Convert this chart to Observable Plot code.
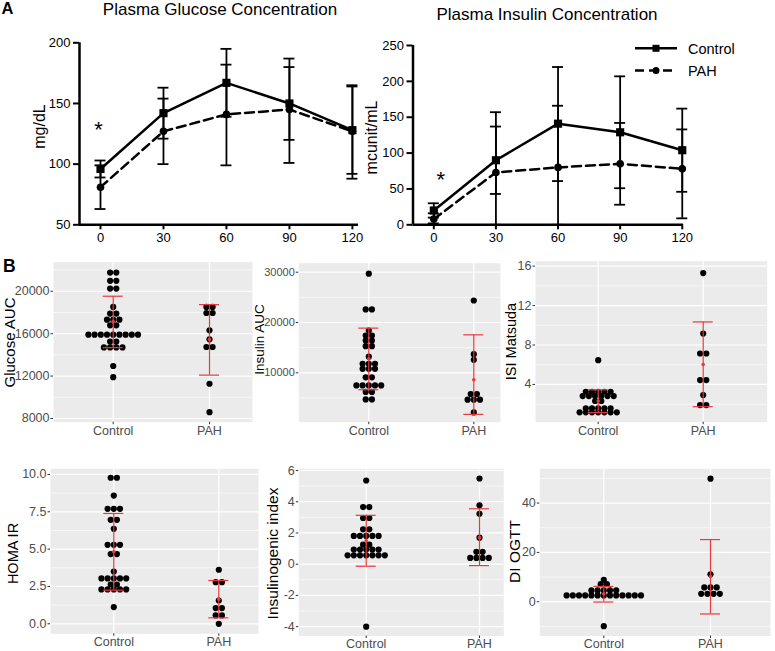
<!DOCTYPE html>
<html><head><meta charset="utf-8">
<script src="https://cdn.jsdelivr.net/npm/d3@7"></script>
<script src="https://cdn.jsdelivr.net/npm/@observablehq/plot@0.6"></script>
<style>
body{margin:0;background:#fff;}
#wrap{position:relative;width:775px;height:651px;overflow:hidden;background:#fff;}
#wrap svg{position:absolute;}
</style></head><body><div id="wrap"></div>
<script>
// ---------- Panel A data ----------
const times = [0, 30, 60, 90, 120];
const glucoseControl   = [96, 142, 167, 150, 128];
const glucoseControlLo = [89, 121, 139, 120, 92];
const glucoseControlHi = [103, 163, 195, 180, 164];
const glucosePAH       = [81, 127, 141, 145, 127];
const glucosePAHLo     = [63, 100, 99, 101, 88];
const glucosePAHHi     = [99, 154, 182, 187, 165];

const insulinControl   = [20, 90, 141, 129, 104];
const insulinControlLo = [10, 43, 61, 51, 46];
const insulinControlHi = [30, 137, 220, 207, 162];
const insulinPAH       = [8, 73, 80, 85, 78];
const insulinPAHLo     = [2, 0, 0, 28, 9];
const insulinPAHHi     = [16, 157, 166, 142, 133];

const glucoseTicks = [50, 100, 150, 200];
const insulinTicks = [0, 50, 100, 150, 200, 250];
const glucoseStar = [{t: 0, y: 128}];
const insulinStar = [{t: 0, y: 63}];

// ---------- Panel B data: [value, count] ----------
const groups = ["Control", "PAH"];
const glucoseAUCControl = [[21760,2],[20980,2],[20250,2],[18520,1],[17890,2],[17320,3],[16790,2],[15900,9],[15250,2],[14700,4],[12950,1],[11900,1]];
const glucoseAUCPAH     = [[18520,2],[17950,2],[16315,1],[15470,1],[14740,2],[11275,1],[8600,1]];
const glucoseAUCMean = [17150, 15450], glucoseAUCLo = [14680, 12090], glucoseAUCHi = [19530, 18740];

const insulinAUCControl = [[29700,1],[22600,2],[18400,1],[17400,2],[16400,2],[15300,2],[13200,1],[11800,3],[10800,3],[9100,2],[7500,5],[6200,2],[4700,2]];
const insulinAUCPAH     = [[24370,1],[13710,1],[12590,1],[5770,2],[4650,3],[2130,1]];
const insulinAUCMean = [12790, 8620], insulinAUCLo = [6630, 1740], insulinAUCHi = [18880, 17550];

const isiControl = [[6.46,1],[3.26,5],[2.82,6],[2.32,2],[1.58,5],[1.17,7]];
const isiPAH     = [[15.3,1],[9.16,1],[7.14,2],[4.44,2],[2.92,1],[1.91,2]];
const isiMean = [2.32, 6.02], isiLo = [1.14, 1.74], isiHi = [3.46, 10.34];

const homaControl = [[9.78,2],[8.59,1],[7.70,3],[6.96,2],[6.36,1],[5.29,3],[4.67,2],[3.50,1],[3.04,5],[2.63,2],[2.30,5],[1.12,1]];
const homaPAH     = [[3.62,1],[2.79,2],[1.56,1],[1.05,2],[0.56,2],[0.0,1]];
const homaMean = [4.82, 1.65], homaLo = [2.25, 0.40], homaHi = [7.39, 2.90];

const insgenControl = [[5.36,1],[3.66,2],[2.96,2],[2.23,2],[1.81,5],[1.25,2],[0.94,5],[0.57,7],[-4.0,1]];
const insgenPAH     = [[5.49,1],[3.77,1],[3.23,1],[1.70,1],[0.79,2],[0.40,4]];
const insgenMean = [1.50, 1.70], insgenLo = [-0.13, -0.09], insgenHi = [3.13, 3.55];

const diControl = [[8.86,1],[7.1,2],[4.57,5],[2.56,13],[-9.9,1]];
const diPAH     = [[49.9,1],[11.1,1],[5.8,3],[3.2,4]];
const diMean = [3.2, 10.2], diLo = [-0.13, -4.96], diHi = [6.2, 25.2];

// ---------- rendering ----------
const FONT = '"Liberation Sans", Arial, Helvetica, sans-serif';
const wrap = document.getElementById("wrap");
const RED = "#e8393f";

function place(svg, left, top) {
  svg.style.left = left + "px";
  svg.style.top = top + "px";
  wrap.appendChild(svg);
}

function linePanel(c) {
  const {box, fr, xDomain, yDomain} = c;
  const ppu = (fr.R - fr.L) / (xDomain[1] - xDomain[0]);
  const cap = 5.5 / ppu;
  const mk = (m, lo, hi) => times.map((t, i) => ({t, v: m[i], lo: lo[i], hi: hi[i]}));
  const ctrl = mk(...c.ctrl), pah = mk(...c.pah);
  const all = ctrl.concat(pah);
  const svg = Plot.plot({
    width: box.w, height: box.h,
    marginLeft: fr.L - box.x, marginRight: box.x + box.w - fr.R,
    marginTop: fr.T - box.y, marginBottom: box.y + box.h - fr.B,
    x: {domain: xDomain}, y: {domain: yDomain},
    style: {background: "transparent", overflow: "visible", fontFamily: FONT, color: "black"},
    marks: [
      Plot.ruleX([xDomain[0]], {strokeWidth: 2.5}),
      Plot.ruleY([yDomain[0]], {strokeWidth: 2.5}),
      Plot.axisY(c.yTicks, {tickSize: 6, strokeWidth: 2, tickPadding: 3, fontSize: 13, label: null, tickFormat: d => String(d)}),
      Plot.axisX(times, {tickSize: 5, strokeWidth: 2, tickPadding: 3, fontSize: 13, label: null, tickFormat: d => String(d)}),
      Plot.ruleX(all, {x: "t", y1: "lo", y2: "hi", strokeWidth: 1.8}),
      Plot.ruleY(all, {y: "lo", x1: d => d.t - cap, x2: d => d.t + cap, strokeWidth: 1.8}),
      Plot.ruleY(all, {y: "hi", x1: d => d.t - cap, x2: d => d.t + cap, strokeWidth: 1.8}),
      Plot.line(ctrl, {x: "t", y: "v", strokeWidth: 2.5}),
      Plot.line(pah, {x: "t", y: "v", strokeWidth: 2.5, strokeDasharray: "9,5"}),
      Plot.dot(ctrl, {x: "t", y: "v", symbol: "square", r: 4.6, fill: "black", stroke: null}),
      Plot.dot(pah, {x: "t", y: "v", r: 3.8, fill: "black", stroke: null}),
      Plot.text(c.star, {x: "t", y: "y", text: () => "*", fontSize: 22, dx: c.starDx}),
      Plot.text([c.yLabel], {frameAnchor: "left", textAnchor: "middle", rotate: -90, dx: c.labelCx - fr.L, dy: c.labelCy - (fr.T + fr.B) / 2, fontSize: 16})
    ]
  });
  place(svg, box.x, box.y);
}

linePanel({
  box: {x: 0, y: 25, w: 390, h: 225},
  fr: {L: 79, T: 42.3, R: 358, B: 224.3},
  xDomain: [-10, 122.9], yDomain: [50, 200], yTicks: glucoseTicks,
  ctrl: [glucoseControl, glucoseControlLo, glucoseControlHi],
  pah: [glucosePAH, glucosePAHLo, glucosePAHHi],
  star: glucoseStar, starDx: -2,
  yLabel: "mg/dL", labelCx: 39, labelCy: 126
});
linePanel({
  box: {x: 380, y: 25, w: 395, h: 225},
  fr: {L: 412.5, T: 45, R: 683, B: 224.3},
  xDomain: [-10.05, 120.6], yDomain: [0, 250], yTicks: insulinTicks,
  ctrl: [insulinControl, insulinControlLo, insulinControlHi],
  pah: [insulinPAH, insulinPAHLo, insulinPAHHi],
  star: insulinStar, starDx: 7,
  yLabel: "mcunit/mL", labelCx: 371, labelCy: 137
});

function dotPanel(c) {
  const {box, fr} = c;
  const unit = fr.c2 - fr.c1;
  const xDomain = [1 - (fr.c1 - fr.L) / unit, 2 + (fr.R - fr.c2) / unit];
  const spacing = 6.2 / unit;
  const capHalf = 10 / unit;
  const dots = [];
  [c.control, c.pah].forEach((rows, gi) => rows.forEach(([v, n]) => {
    for (let i = 0; i < n; i++) dots.push({x: gi + 1 + (i - (n - 1) / 2) * spacing, y: v});
  }));
  const stats = [0, 1].map(i => ({x: i + 1, mean: c.mean[i], lo: c.lo[i], hi: c.hi[i]}));
  const svg = Plot.plot({
    width: box.w, height: box.h,
    marginLeft: fr.L - box.x, marginRight: box.x + box.w - fr.R,
    marginTop: fr.T - box.y, marginBottom: box.y + box.h - fr.B,
    x: {domain: xDomain}, y: {domain: c.yDomain},
    style: {background: "transparent", overflow: "visible", fontFamily: FONT, color: "black"},
    marks: [
      Plot.frame({fill: "#ebebeb", stroke: "none"}),
      Plot.gridY(c.minor, {stroke: "white", strokeOpacity: 1, strokeWidth: 0.6}),
      Plot.gridY(c.ticks, {stroke: "white", strokeOpacity: 1, strokeWidth: 1.2}),
      Plot.gridX([1, 2], {stroke: "white", strokeOpacity: 1, strokeWidth: 1.2}),
      Plot.axisY(c.ticks, {tickSize: 2.5, tickPadding: 1.5, fontSize: c.tfs || 12.5, fill: "#4d4d4d", stroke: "#333333", label: null, tickFormat: c.fmt}),
      Plot.axisX([1, 2], {tickSize: 2.5, tickPadding: c.xpad, fontSize: 12.5, fill: "#4d4d4d", stroke: "#333333", label: null, tickFormat: d => groups[d - 1]}),
      Plot.dot(dots, {x: "x", y: "y", r: 3.1, fill: "black", stroke: null}),
      Plot.ruleX(stats, {x: "x", y1: "lo", y2: "hi", stroke: RED, strokeWidth: 1.2}),
      Plot.ruleY(stats, {y: "lo", x1: d => d.x - capHalf, x2: d => d.x + capHalf, stroke: RED, strokeWidth: 1.2}),
      Plot.ruleY(stats, {y: "hi", x1: d => d.x - capHalf, x2: d => d.x + capHalf, stroke: RED, strokeWidth: 1.2}),
      Plot.dot(stats, {x: "x", y: "mean", r: 1.8, fill: RED, stroke: null}),
      Plot.text([c.label], {frameAnchor: "left", textAnchor: "middle", rotate: -90, dx: c.lx - fr.L, dy: c.ly - (fr.T + fr.B) / 2, fontSize: c.lfs})
    ]
  });
  place(svg, box.x, box.y);
}

const f0 = d => String(d);
dotPanel({box: {x: 0, y: 240, w: 260, h: 205}, fr: {L: 53, T: 261.7, R: 252, B: 421.7, c1: 112.7, c2: 209}, xpad: 1.5,
  yDomain: [7650, 22740], ticks: [8000, 12000, 16000, 20000], minor: [10000, 14000, 18000, 22000], fmt: f0,
  control: glucoseAUCControl, pah: glucoseAUCPAH, mean: glucoseAUCMean, lo: glucoseAUCLo, hi: glucoseAUCHi,
  label: "Glucose AUC", lx: 10, ly: 342, lfs: 15});
dotPanel({box: {x: 255, y: 240, w: 255, h: 205}, fr: {L: 298.3, T: 262.7, R: 500, B: 421.7, c1: 368.3, c2: 473.3}, xpad: 1.5,
  yDomain: [180, 31790], ticks: [10000, 20000, 30000], minor: [5000, 15000, 25000], fmt: f0, tfs: 11,
  control: insulinAUCControl, pah: insulinAUCPAH, mean: insulinAUCMean, lo: insulinAUCLo, hi: insulinAUCHi,
  label: "Insulin AUC", lx: 259.5, ly: 339, lfs: 13.5});
dotPanel({box: {x: 495, y: 240, w: 280, h: 205}, fr: {L: 535, T: 260.7, R: 766.7, B: 421.7, c1: 597.7, c2: 702.7}, xpad: 1.5,
  yDomain: [0.17, 16.5], ticks: [4, 8, 12, 16], minor: [2, 6, 10, 14], fmt: f0,
  control: isiControl, pah: isiPAH, mean: isiMean, lo: isiLo, hi: isiHi,
  label: "ISI Matsuda", lx: 511, ly: 341, lfs: 14.5});
dotPanel({box: {x: 0, y: 445, w: 262, h: 206}, fr: {L: 50, T: 468.3, R: 258, B: 633.3, c1: 113.3, c2: 218.3}, xpad: 1,
  yDomain: [-0.67, 10.38], ticks: [0, 2.5, 5, 7.5, 10], minor: [1.25, 3.75, 6.25, 8.75], fmt: d => d.toFixed(1),
  control: homaControl, pah: homaPAH, mean: homaMean, lo: homaLo, hi: homaHi,
  label: "HOMA IR", lx: 13, ly: 553, lfs: 14.5});
dotPanel({box: {x: 255, y: 445, w: 255, h: 206}, fr: {L: 298.3, T: 468.3, R: 503.3, B: 635.5, c1: 365.7, c2: 479}, xpad: 0.8,
  yDomain: [-4.6, 6.11], ticks: [-4, -2, 0, 2, 4, 6], minor: [-3, -1, 1, 3, 5], fmt: f0,
  control: insgenControl, pah: insgenPAH, mean: insgenMean, lo: insgenLo, hi: insgenHi,
  label: "Insulinogenic index", lx: 273, ly: 553, lfs: 15.5});
dotPanel({box: {x: 500, y: 445, w: 275, h: 206}, fr: {L: 539.3, T: 468.3, R: 770, B: 635.5, c1: 603.3, c2: 710}, xpad: 0.8,
  yDomain: [-13.9, 53.9], ticks: [0, 20, 40], minor: [-10, 10, 30, 50], fmt: f0,
  control: diControl, pah: diPAH, mean: diMean, lo: diLo, hi: diHi,
  label: "DI OGTT", lx: 515, ly: 551, lfs: 15.5});

// ---------- titles, panel letters, legend ----------
const ns = "http://www.w3.org/2000/svg";
const ov = document.createElementNS(ns, "svg");
ov.setAttribute("width", 775); ov.setAttribute("height", 651);
ov.style.left = "0px"; ov.style.top = "0px"; ov.style.fontFamily = FONT;
ov.innerHTML = `
  <text x="1.5" y="13.5" font-size="16.5" font-weight="bold">A</text>
  <text x="220" y="15" font-size="17" text-anchor="middle">Plasma Glucose Concentration</text>
  <text x="547" y="19.5" font-size="17" text-anchor="middle">Plasma Insulin Concentration</text>
  <text x="3" y="272" font-size="17.5" font-weight="bold">B</text>
  <line x1="635" x2="677" y1="48.3" y2="48.3" stroke="black" stroke-width="2.5"/>
  <rect x="652.5" y="44.8" width="7" height="7" fill="black"/>
  <text x="688" y="53.5" font-size="14.5">Control</text>
  <line x1="635" x2="677" y1="70.5" y2="70.5" stroke="black" stroke-width="2.5" stroke-dasharray="9,5"/>
  <circle cx="656" cy="70.5" r="3.5" fill="black"/>
  <text x="688" y="75.7" font-size="14.5">PAH</text>`;
wrap.appendChild(ov);
</script>
</body></html>
